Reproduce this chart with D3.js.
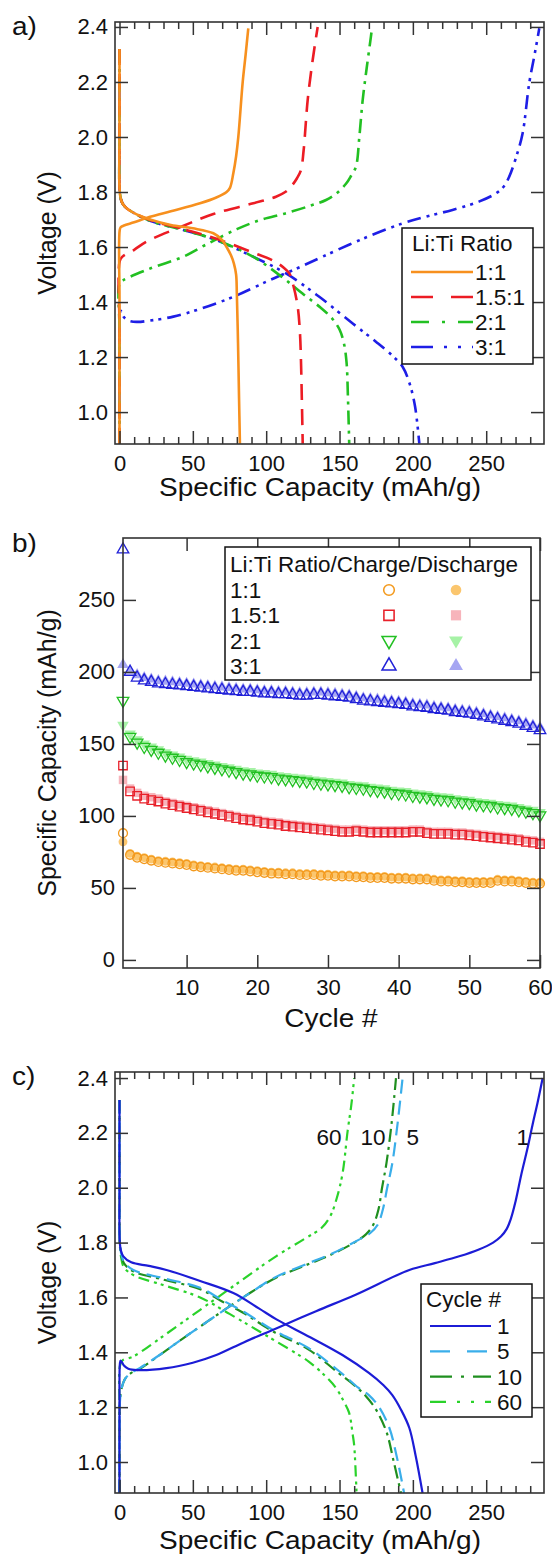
<!DOCTYPE html>
<html>
<head>
<meta charset="utf-8">
<script src="https://cdn.jsdelivr.net/npm/d3@7"></script>
<style>
  body { margin: 0; background: #fff; }
  svg text { font-family: "Liberation Sans", Arial, Helvetica, sans-serif; }
</style>
</head>
<body>
<svg id="fig" width="552" height="1559"></svg>
<script>
// ---------- panel a: voltage profiles per Li:Ti ratio, [capacity mAh/g, voltage V] ----------
const ratioNames = ["1:1", "1.5:1", "2:1", "3:1"];
const a11Charge = [[0,0.885],[0,1.4],[0.1,1.66],[0.8,1.672],[3,1.678],[10,1.69],[20.8,1.71],[35,1.73],[54.9,1.759],[66,1.78],[73,1.80],[75.3,1.815],[77.6,1.868],[79.5,1.93],[81,2.0],[84,2.2],[86,2.3],[87.8,2.395]];
const a11Discharge = [[0,2.32],[0,2.0],[0.2,1.80],[1.5,1.765],[4,1.745],[9.4,1.725],[20.8,1.70],[35,1.68],[50,1.668],[64,1.65],[70,1.625],[73,1.60],[76,1.57],[78,1.54],[79.5,1.50],[80,1.43],[80.8,1.25],[81.5,1.05],[82.1,0.885]];
const a15Charge = [[0,0.885],[0,1.3],[0.2,1.55],[2,1.565],[10,1.59],[18.5,1.62],[41.2,1.672],[64,1.72],[91.2,1.759],[106.7,1.783],[113,1.80],[117,1.82],[121,1.85],[123.7,1.88],[125.5,1.95],[128.3,2.135],[131.7,2.28],[135.1,2.40]];
const a15Discharge = [[0,2.32],[0,2.0],[0.2,1.80],[1.5,1.765],[4,1.745],[9.4,1.725],[20.8,1.698],[43.5,1.665],[66,1.63],[91,1.58],[105,1.55],[112,1.525],[115.8,1.504],[118.5,1.46],[121.5,1.383],[123,1.29],[123.7,1.19],[124.9,0.885]];
const a2Charge = [[0,0.885],[0,1.3],[0.2,1.47],[2.6,1.48],[20,1.52],[43.5,1.565],[59.4,1.61],[80,1.665],[95.8,1.698],[113.5,1.723],[130,1.75],[140.8,1.771],[148,1.795],[154.4,1.83],[158,1.86],[161.2,1.892],[163.5,2.0],[165.8,2.135],[168.5,2.25],[171.4,2.365],[172,2.39]];
const a2Discharge = [[0,2.32],[0,2.0],[0.2,1.80],[1.5,1.765],[4,1.745],[9.4,1.725],[20.8,1.695],[43.5,1.662],[66,1.625],[91,1.565],[111,1.49],[125,1.43],[137,1.38],[145,1.34],[150,1.30],[153,1.25],[154.8,1.18],[155.7,1.06],[156.6,0.885]];
const a3Charge = [[0,0.885],[0,1.2],[0.2,1.355],[0.8,1.368],[3,1.345],[6,1.333],[11.7,1.328],[20,1.332],[36.7,1.347],[55,1.375],[77.6,1.419],[102.6,1.48],[120,1.52],[138.5,1.565],[165,1.628],[193,1.686],[210,1.712],[227,1.735],[245,1.765],[256.6,1.795],[262,1.82],[265.7,1.856],[270,1.92],[274.8,2.013],[279.3,2.195],[283,2.30],[286.2,2.395]];
const a3Discharge = [[0,2.32],[0,2.0],[0.2,1.80],[1.5,1.765],[4,1.745],[9.4,1.725],[20.8,1.695],[43.5,1.662],[66,1.625],[91,1.565],[113.5,1.504],[136.2,1.419],[159,1.322],[175,1.255],[186,1.205],[193,1.165],[198,1.10],[201.5,1.02],[204.4,0.885]];

// ---------- panel b: capacity vs cycle ----------
const cycles = d3.range(1, 61);
const chg11 = [88,73,71,70,69,68,67.5,67,66.5,66, 65,64.5,64,63.5,63,62.5,62,62,61.5,61, 60.5,60,60,59.5,59.5,59,59,59,58.5,58.5, 58,58,58,57.5,57.5,57,57,57,56.5,56.5, 56.5,56,56,56,55,54.5,54.5,54,54,53.5, 53.5,53.5,53.5,55,54.5,54.5,54,53.5,53,53];
const dis11 = [82,74,72,71,70,69,68.5,68,67.5,67, 66,65.5,65,64.5,64,63.5,63,63,62.5,62, 61.5,61,61,60.5,60.5,60,60,60,59.5,59.5, 59,59,59,58.5,58.5,58,58,58,57.5,57.5, 57.5,57,57,57,56,55.5,55.5,55,55,54.5, 54.5,54.5,54.5,56,55.5,55.5,55,54.5,54,54];
const chg15 = [135,117,114,112,111,110,108.5,107.5,106.5,105.5, 104.5,103.5,102.5,101.5,100.5,99.5,98.5,97.5,97,96, 95,94.5,94,93,92.5,92,91.5,91,90.5,90, 89.5,89,89,89.5,89,88.5,88.5,88.5,88.5,88.5, 88.5,89,89,88,87.5,87.5,87.5,87,87,86.5, 86,85.5,85,84.5,84,83.5,83,82,81.5,80.5];
const dis15 = [125,119,116,114,113,112,110,109,108,107, 106,105,104,103,102,101,100,99,98.5,97.5, 96.5,96,95.5,94.5,94,93.5,93,92.5,92,91.5, 91,90.5,90.5,91,90.5,90,90,90,90,90, 90,90.5,90.5,89.5,89,89,89,88.5,88.5,88, 87.5,87,86.5,86,85.5,85,84.5,83.5,83,82];
const chg2 = [180,155,151,148,146,144,142,140.5,139,137.5, 136.5,135.5,134.5,133.5,132.5,131.5,130.5,129.5,129,128, 127.5,127,126,125.5,125,124.5,124,123,122.5,122, 121.5,121,120,119.5,119,118,117.5,117,116,115.5, 115,114,113.5,113,112,111.5,111,110,109.5,109, 108,107.5,107,106,105.5,105,104,103,102,100.5];
const dis2 = [163,157,153,150,148,146,144,142.5,141,139.5, 138.5,137.5,136.5,135.5,134.5,133.5,132.5,131.5,131,130, 129.5,129,128,127.5,127,126.5,126,125,124.5,124, 123.5,123,122,121.5,121,120,119.5,119,118,117.5, 117,116,115.5,115,114,113.5,113,112,111.5,111, 110,109.5,109,108,107.5,107,106,105,104,102.5];
const chg3 = [285,200,196,194,193,192,191.5,191,190.5,190, 189.5,189,188.5,188,187.5,187,186.5,186,186,185.5, 185,185,184.5,184.5,184,183.5,183.5,184,184,183.5, 183,182.5,182,181,180,179.5,179,178.5,178,177.5, 177,176,175.5,175,174,173.5,173,172,171.5,171, 170,169,168,167,166,165,164,162.5,161,159.5];
const dis3 = [205,201,198,196,195,194,193.5,193,192.5,192, 191.5,191,190.5,190,189.5,189,188.5,188,188,187.5, 187,187,186.5,186.5,186,185.5,185.5,186,186,185.5, 185,184.5,184,183,182,181.5,181,180.5,180,179.5, 179,178,177.5,177,176,175.5,175,174,173.5,173, 172,171,170,169,168,167,166,164.5,163,161.5];

// ---------- panel c: 3:1 profiles at cycles 1, 5, 10, 60 ----------
const cycleNames = ["1", "5", "10", "60"];
const c1Charge = [[0,0.887],[0,1.2],[0.3,1.36],[0.8,1.37],[3,1.352],[6,1.34],[12,1.335],[32,1.342],[50,1.362],[66,1.39],[85,1.437],[106.8,1.487],[134,1.55],[161,1.61],[197.6,1.70],[215,1.725],[231.6,1.75],[245,1.775],[254.7,1.80],[260,1.822],[264,1.85],[267,1.89],[270,1.95],[274,2.05],[278,2.14],[281.6,2.23],[285,2.31],[288.5,2.40]];
const c1Discharge = [[0,2.32],[0,2.0],[0.2,1.80],[1,1.77],[2.6,1.75],[8,1.728],[20,1.715],[32,1.70],[55,1.66],[77.6,1.616],[95,1.56],[107,1.52],[130,1.455],[152,1.39],[170,1.325],[180,1.28],[186,1.244],[192,1.19],[197.6,1.124],[202,1.02],[206.6,0.887]];
const c5Charge = [[0,0.887],[0,1.1],[0.3,1.22],[1.5,1.27],[4,1.305],[8,1.325],[14,1.343],[30,1.40],[43.6,1.452],[58,1.505],[73,1.56],[90,1.62],[106.7,1.675],[129,1.725],[145,1.76],[163,1.81],[171,1.835],[176,1.865],[179.5,1.92],[182.5,2.0],[186,2.09],[189.6,2.235],[193,2.40]];
const c5Discharge = [[0,2.32],[0,2.0],[0.2,1.80],[1,1.765],[3,1.73],[9.4,1.70],[30,1.67],[55,1.635],[70,1.59],[84,1.55],[105,1.48],[129,1.415],[150,1.33],[163,1.27],[170,1.244],[177,1.20],[184,1.124],[189,1.02],[194,0.887]];
const c10Charge = [[0,0.887],[0,1.1],[0.3,1.22],[1.5,1.27],[4,1.305],[8,1.325],[14,1.34],[30,1.40],[43.6,1.452],[58,1.505],[73,1.56],[90,1.62],[106.7,1.672],[129,1.722],[145,1.758],[160,1.80],[168,1.83],[173,1.865],[176.5,1.92],[179,2.0],[182,2.09],[185.5,2.235],[188.5,2.40]];
const c10Discharge = [[0,2.32],[0,2.0],[0.2,1.80],[1,1.76],[3,1.725],[9.4,1.695],[30,1.665],[55,1.63],[70,1.585],[84,1.545],[105,1.475],[129,1.41],[148,1.33],[160,1.28],[168,1.24],[175,1.19],[182,1.11],[187,1.0],[191.9,0.887]];
const c60Charge = [[0,0.887],[0,1.2],[0.3,1.35],[2,1.37],[9.5,1.385],[30,1.46],[55,1.555],[80,1.65],[106.7,1.75],[125,1.81],[138,1.855],[144,1.90],[148,1.96],[152,2.05],[155.6,2.21],[158,2.30],[160,2.40]];
const c60Discharge = [[0,2.32],[0,2.0],[0.2,1.80],[1,1.75],[3,1.71],[10,1.68],[30,1.645],[55,1.60],[75,1.54],[91,1.49],[106.7,1.44],[129,1.366],[140,1.315],[147.6,1.27],[153,1.22],[156.5,1.18],[159,1.10],[160,1.06],[161.6,0.887]];
// curve labels in panel c, placed in data units
const cLabels = [["60",142.8,2.185],["10",172.8,2.185],["5",200,2.185],["1",275,2.185]];

// ---------- styling ----------
const tickFont = 22, titleFont = 25, legFont = 22.5;
const stretch = 1.12;          // the source figure is a little wider than tall
const axisCol = "#333", textCol = "#111";
const aColors = ["#f7901e", "#ec1c24", "#22c022", "#1e1ee6"];
const aDash = [null, "16,9", "14,6,3,6", "14,6,3,5,3,6"];
const aLegDash = [null, "22,18", "18,13,3,13", "22,11,3,11,3,11"];
const bStroke = ["#f39a1e", "#e8202a", "#22c022", "#2020d8"];
const bFill = ["#fbc66e", "#f7b4bb", "#a6f2a6", "#a6a6f2"];
const cColors = ["#1c1cd6", "#3aaeea", "#1f8f1f", "#2ad22a"];
const cDash = [null, "14,7", "13,5,3,5", "11,5,3,4,3,5"];
const cLegDash = [null, "20,17", "22,9,3,9", "16,11,3,11,3,11"];

const svg = d3.select("#fig");

function addAxes(g, x, y, cfg) {
  const [xl, xr] = x.range(), [yb, yt] = y.range();
  const style = sel => {
    sel.select(".domain").remove();
    sel.selectAll(".tick line").attr("stroke", axisCol).attr("stroke-width", 1.5);
    sel.selectAll("text").attr("font-size", tickFont).attr("fill", textCol)
      .attr("font-family", '"Liberation Sans", Arial, sans-serif');
  };
  g.append("g").attr("transform", `translate(0,${yb})`)
    .call(d3.axisBottom(x).tickValues(cfg.xMajor).tickSize(-13).tickPadding(cfg.xPad).tickFormat(d3.format("d"))).call(style);
  g.append("g").attr("transform", `translate(0,${yt})`)
    .call(d3.axisTop(x).tickValues(cfg.xMajor).tickSize(-13).tickFormat("")).call(style);
  if (cfg.xMinor) {
    g.append("g").attr("transform", `translate(0,${yb})`)
      .call(d3.axisBottom(x).tickValues(cfg.xMinor).tickSize(-7).tickFormat("")).call(style);
    g.append("g").attr("transform", `translate(0,${yt})`)
      .call(d3.axisTop(x).tickValues(cfg.xMinor).tickSize(-7).tickFormat("")).call(style);
  }
  g.append("g").attr("transform", `translate(${xl},0)`)
    .call(d3.axisLeft(y).tickValues(cfg.yMajor).tickSize(-13).tickPadding(cfg.yPad).tickFormat(cfg.yFmt)).call(style);
  g.append("g").attr("transform", `translate(${xr},0)`)
    .call(d3.axisRight(y).tickValues(cfg.yMajor).tickSize(-13).tickFormat("")).call(style);
  g.append("rect").attr("x", xl).attr("y", yt).attr("width", xr - xl).attr("height", yb - yt)
    .attr("fill", "none").attr("stroke", axisCol).attr("stroke-width", 1.6);
}

// horizontal text, widened slightly like the source
function wideText(g, txt, px, py, size, anchor) {
  return g.append("text").attr("transform", `translate(${px},${py}) scale(${stretch},1)`)
    .attr("text-anchor", anchor || "start").attr("font-size", size).attr("fill", textCol).text(txt);
}

function axisTitles(g, y, xTitle, yTitle, xTitleX, xTitleY) {
  const [yb, yt] = y.range();
  wideText(g, xTitle, xTitleX, xTitleY, titleFont, "middle");
  g.append("text").attr("transform", `translate(56,${(yb + yt) / 2}) rotate(-90)`).attr("text-anchor", "middle")
    .attr("font-size", titleFont).attr("fill", textCol).text(yTitle);
}

const lineGen = (x, y) => d3.line().x(d => x(d[0])).y(d => y(d[1])).curve(d3.curveCatmullRom.alpha(0.5));

// ================= panel a =================
{
  const g = svg.append("g");
  const x = d3.scaleLinear().domain([-3.07, 289.4]).range([115, 544]);
  const y = d3.scaleLinear().domain([0.884, 2.418]).range([444, 22]);
  const curves = [[a11Charge, a11Discharge], [a15Charge, a15Discharge], [a2Charge, a2Discharge], [a3Charge, a3Discharge]];
  const ln = lineGen(x, y);
  // draw 3:1 first so 1:1 sits on top
  [3, 2, 1, 0].forEach(i => {
    curves[i].forEach(c => {
      g.append("path").attr("d", ln(c)).attr("fill", "none").attr("stroke", aColors[i])
        .attr("stroke-width", 2.6).attr("stroke-dasharray", aDash[i]);
    });
  });
  addAxes(g, x, y, {
    xMajor: [0, 50, 100, 150, 200, 250], xMinor: d3.range(10, 290, 10).filter(v => v % 50),
    yMajor: [1.0, 1.2, 1.4, 1.6, 1.8, 2.0, 2.2, 2.4], yFmt: d3.format(".1f"), xPad: 11, yPad: 7
  });
  axisTitles(g, y, "Specific Capacity (mAh/g)", "Voltage (V)", 320, 496);
  // legend
  const lg = g.append("g");
  lg.append("rect").attr("x", 402).attr("y", 228).attr("width", 131).attr("height", 136)
    .attr("fill", "#fff").attr("stroke", "#111").attr("stroke-width", 1.5);
  lg.append("text").attr("x", 412).attr("y", 251).attr("font-size", legFont).attr("fill", textCol).text("Li:Ti Ratio");
  ratioNames.forEach((n, i) => {
    const ly = 272 + i * 25;
    lg.append("line").attr("x1", 411).attr("x2", 473).attr("y1", ly).attr("y2", ly)
      .attr("stroke", aColors[i]).attr("stroke-width", 2.6).attr("stroke-dasharray", aLegDash[i]);
    lg.append("text").attr("x", 475).attr("y", ly + 8).attr("font-size", legFont).attr("fill", textCol).text(n);
  });
  wideText(svg, "a)", 12, 35, titleFont);
}

// ================= panel b =================
{
  const g = svg.append("g");
  const x = d3.scaleLinear().domain([1, 60]).range([123, 540]);
  const y = d3.scaleLinear().domain([-5.6, 293]).range([968, 538]);
  const shapes = [d3.symbolCircle, d3.symbolSquare, d3.symbolTriangle, d3.symbolTriangle];
  const sizes = [62, 72, 58, 58];
  const rot = [0, 0, 180, 0];
  const charge = [chg11, chg15, chg2, chg3], discharge = [dis11, dis15, dis2, dis3];
  const sym = i => d3.symbol().type(shapes[i]).size(sizes[i])();
  [0, 1, 2, 3].forEach(i => {
    g.append("g").selectAll("path").data(cycles).enter().append("path")
      .attr("d", sym(i)).attr("transform", (c, k) => `translate(${x(c)},${y(discharge[i][k])}) rotate(${rot[i]})`)
      .attr("fill", bFill[i]);
    g.append("g").selectAll("path").data(cycles).enter().append("path")
      .attr("d", sym(i)).attr("transform", (c, k) => `translate(${x(c)},${y(charge[i][k])}) rotate(${rot[i]})`)
      .attr("fill", "none").attr("stroke", bStroke[i]).attr("stroke-width", 1.3);
  });
  addAxes(g, x, y, {
    xMajor: [10, 20, 30, 40, 50, 60], xMinor: null,
    yMajor: [0, 50, 100, 150, 200, 250], yFmt: d3.format("d"), xPad: 11, yPad: 8
  });
  axisTitles(g, y, "Cycle #", "Specific Capacity (mAh/g)", 331, 1027);
  const lg = g.append("g");
  lg.append("rect").attr("x", 225).attr("y", 547).attr("width", 306).attr("height", 133)
    .attr("fill", "#fff").attr("stroke", "#111").attr("stroke-width", 1.5);
  lg.append("text").attr("x", 230).attr("y", 572).attr("font-size", legFont).attr("fill", textCol).text("Li:Ti Ratio/Charge/Discharge");
  ratioNames.forEach((n, i) => {
    const ly = 590 + i * 25.3;
    lg.append("text").attr("x", 230).attr("y", ly + 8).attr("font-size", legFont).attr("fill", textCol).text(n);
    lg.append("path").attr("d", sym(i)).attr("transform", `translate(389,${ly}) rotate(${rot[i]}) scale(1.2)`)
      .attr("fill", "none").attr("stroke", bStroke[i]).attr("stroke-width", 1.3);
    lg.append("path").attr("d", sym(i)).attr("transform", `translate(456,${ly}) rotate(${rot[i]}) scale(1.2)`)
      .attr("fill", bFill[i]);
  });
  wideText(svg, "b)", 12, 552, titleFont);
}

// ================= panel c =================
{
  const g = svg.append("g");
  const x = d3.scaleLinear().domain([-3.07, 289.4]).range([115, 544]);
  const y = d3.scaleLinear().domain([0.887, 2.422]).range([1493, 1072]);
  const curves = [[c1Charge, c1Discharge], [c5Charge, c5Discharge], [c10Charge, c10Discharge], [c60Charge, c60Discharge]];
  const ln = lineGen(x, y);
  [3, 2, 1, 0].forEach(i => {
    curves[i].forEach(c => {
      g.append("path").attr("d", ln(c)).attr("fill", "none").attr("stroke", cColors[i])
        .attr("stroke-width", 2.2).attr("stroke-dasharray", cDash[i]);
    });
  });
  cLabels.forEach(([t, cx, cy]) => {
    g.append("text").attr("x", x(cx)).attr("y", y(cy) + 8).attr("text-anchor", "middle")
      .attr("font-size", legFont).attr("fill", textCol).text(t);
  });
  addAxes(g, x, y, {
    xMajor: [0, 50, 100, 150, 200, 250], xMinor: d3.range(10, 290, 10).filter(v => v % 50),
    yMajor: [1.0, 1.2, 1.4, 1.6, 1.8, 2.0, 2.2, 2.4], yFmt: d3.format(".1f"), xPad: 11, yPad: 7
  });
  axisTitles(g, y, "Specific Capacity (mAh/g)", "Voltage (V)", 320, 1549);
  const lg = g.append("g");
  lg.append("rect").attr("x", 421).attr("y", 1284).attr("width", 111).attr("height", 133)
    .attr("fill", "#fff").attr("stroke", "#111").attr("stroke-width", 1.5);
  lg.append("text").attr("x", 426).attr("y", 1307).attr("font-size", legFont).attr("fill", textCol).text("Cycle #");
  cycleNames.forEach((n, i) => {
    const ly = 1326 + i * 25.3;
    lg.append("line").attr("x1", 430).attr("x2", 491).attr("y1", ly).attr("y2", ly)
      .attr("stroke", cColors[i]).attr("stroke-width", 2.2).attr("stroke-dasharray", cLegDash[i]);
    lg.append("text").attr("x", 497).attr("y", ly + 8).attr("font-size", legFont).attr("fill", textCol).text(n);
  });
  wideText(svg, "c)", 12, 1085, titleFont);
}
</script>
</body>
</html>
